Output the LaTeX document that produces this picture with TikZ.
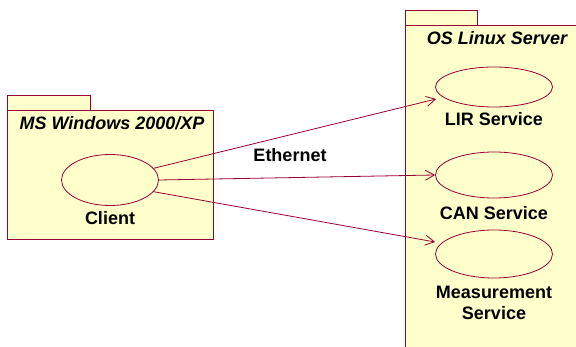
\documentclass[tikz,border=0pt]{standalone}
\usepackage{fontspec}
\setmainfont{Liberation Sans}
\usepackage{tikz}
\usetikzlibrary{arrows.meta}
\usetikzlibrary{shapes,positioning,calc}

\definecolor{umlfill}{RGB}{255,255,204}
\definecolor{umlline}{RGB}{153,0,51}

\tikzset{
	package/.style={draw=umlline, fill=umlfill, line width=0.8pt},
	usecase/.style={ellipse, draw=umlline, fill=umlfill, line width=0.8pt, inner sep=0pt},
	label/.style={font=\fontsize{18}{20}\selectfont\bfseries, align=center},
	title/.style={font=\fontsize{18}{20}\selectfont\bfseries\itshape},
	link/.style={draw=umlline, line width=0.8pt, -{Straight Barb[length=9pt,width=10pt]}}
}

\begin{document}
\begin{tikzpicture}[x=1pt, y=-1pt]
\clip (0,0) rectangle (576,347);
\fill[white] (0,0) rectangle (576,347);

% Left package: the client machine, a tab on top of the body
\draw[package] (7,95) rectangle (90,110);
\draw[package] (7,110) rectangle (213,239);
\node[title] (win) at (112,123) {MS Windows 2000/XP};

% Right package: the server, running off the page on the right and below
\draw[package] (405,10) rectangle (477,25);
\draw[package] (405,25) rectangle (590,360);
\node[title] (lin) at (497,38) {OS Linux Server};

% Use cases, each with its name below it
\node[usecase, minimum width=97pt, minimum height=51pt] (client) at (110,180) {};
\node[label] (clientname) at (110,218) {Client};

\foreach \name/\y/\h/\text/\ty in {lir/87/40/LIR Service/119,
	can/175/46/CAN Service/213,
	meas/254/48/{Measurement\\[1pt]Service}/303}
{
	\node[usecase, minimum width=117pt, minimum height=\h pt] (\name) at (494,\y) {};
	\node[label] (\name name) at (494,\ty) {\text};
}

% Connections over the network
\draw[link] (client.15) -- ($(lir.west)+(1,12)$);
\draw[link] (client.east) -- (can.west);
\draw[link] (client.-15) -- ($(meas.west)+(0,-12)$);
\node[label] (net) at (290,155) {Ethernet};
\end{tikzpicture}
\end{document}
